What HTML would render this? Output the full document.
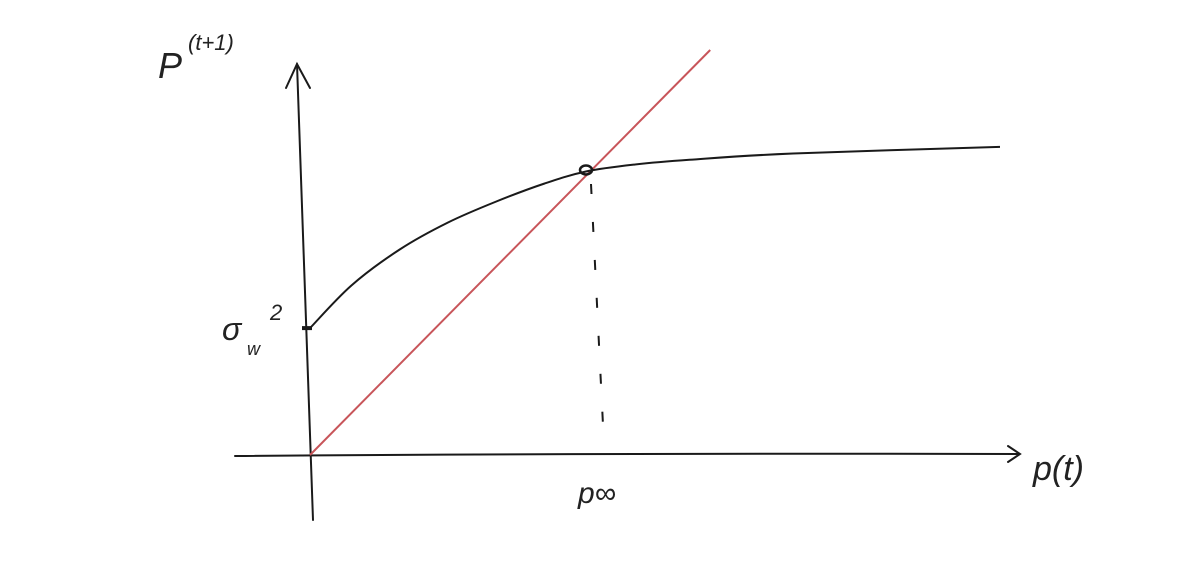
<!DOCTYPE html>
<html><head><meta charset="utf-8"><style>
html,body{margin:0;padding:0;background:#fff;}
svg{display:block;}
text{font-family:"Liberation Sans",sans-serif;fill:#222;}
</style></head><body>
<svg id="chart" width="1181" height="565" viewBox="0 0 1181 565">
<g id="axes" stroke="#1a1a1a" stroke-width="2" fill="none" stroke-linecap="round">
  <path d="M297 64 Q305 300 313 520"/>
  <path d="M286 88 L297 64 L310 88"/>
  <path d="M235 456 Q600 453 1018 454"/>
  <path d="M1008 446 L1020 454 L1008 462"/>
</g>
<g id="marks"></g>
<text x="158" y="78" font-size="36" font-style="italic">P</text>
<text x="188" y="50" font-size="22" font-style="italic">(t+1)</text>
<text x="222" y="340" font-size="32" font-style="italic">σ</text>
<text x="247" y="355" font-size="18" font-style="italic">w</text>
<text x="270" y="320" font-size="22" font-style="italic">2</text>
<text x="578" y="503" font-size="30" font-style="italic">p∞</text>
<text x="1033" y="480" font-size="34" font-style="italic">p(t)</text>
</svg>
<script>
const curveX=[0,0.6,1.3,2,2.7,3.4,4,4.7,5.5,7,10];
const curveY=[4.23,5.65,6.85,7.75,8.45,9.05,9.45,9.68,9.84,10.05,10.27];
const identityX=[0,5.8];
const identityY=[0,13.5];
const fixedPointX=[4.0];
const fixedPointY=[9.5];
const xS=x=>310+x*69;
const yS=y=>455-y*30;
const ns="http://www.w3.org/2000/svg";
const g=document.getElementById('marks');
function mk(t,a){const e=document.createElementNS(ns,t);for(const k in a)e.setAttribute(k,a[k]);g.appendChild(e);return e;}
const red=mk('path',{d:identityX.map((x,i)=>(i?'L':'M')+xS(x)+' '+yS(identityY[i])).join(' '),stroke:'#c8555a','stroke-width':2,fill:'none'});


const P=curveX.map((x,i)=>[xS(x),yS(curveY[i])]);
let d='M'+P[0][0]+' '+P[0][1];
for(let i=0;i<P.length-1;i++){
  const p0=P[Math.max(0,i-1)],p1=P[i],p2=P[i+1],p3=P[Math.min(P.length-1,i+2)];
  const c1=[p1[0]+(p2[0]-p0[0])/6,p1[1]+(p2[1]-p0[1])/6];
  const c2=[p2[0]-(p3[0]-p1[0])/6,p2[1]-(p3[1]-p1[1])/6];
  d+=' C'+c1[0]+' '+c1[1]+' '+c2[0]+' '+c2[1]+' '+p2[0]+' '+p2[1];
}
const c=mk('path',{d:d,stroke:'#1a1a1a','stroke-width':2,fill:'none'});


const px=xS(fixedPointX[0]),py=yS(fixedPointY[0]);
const dash=mk('path',{d:'M'+(px+5)+' '+(py+14)+' L'+(px+18)+' '+445,stroke:'#1a1a1a','stroke-width':2,'stroke-dasharray':'10 28',fill:'none'});


const pt=mk('ellipse',{cx:px,cy:py,rx:6,ry:4.5,stroke:'#1a1a1a','stroke-width':2.5,fill:'none'});


const tick=mk('path',{d:'M'+(xS(0)-8)+' '+yS(curveY[0])+' L'+(xS(0)+2)+' '+yS(curveY[0]),stroke:'#1a1a1a','stroke-width':4});


</script>
</body></html>
